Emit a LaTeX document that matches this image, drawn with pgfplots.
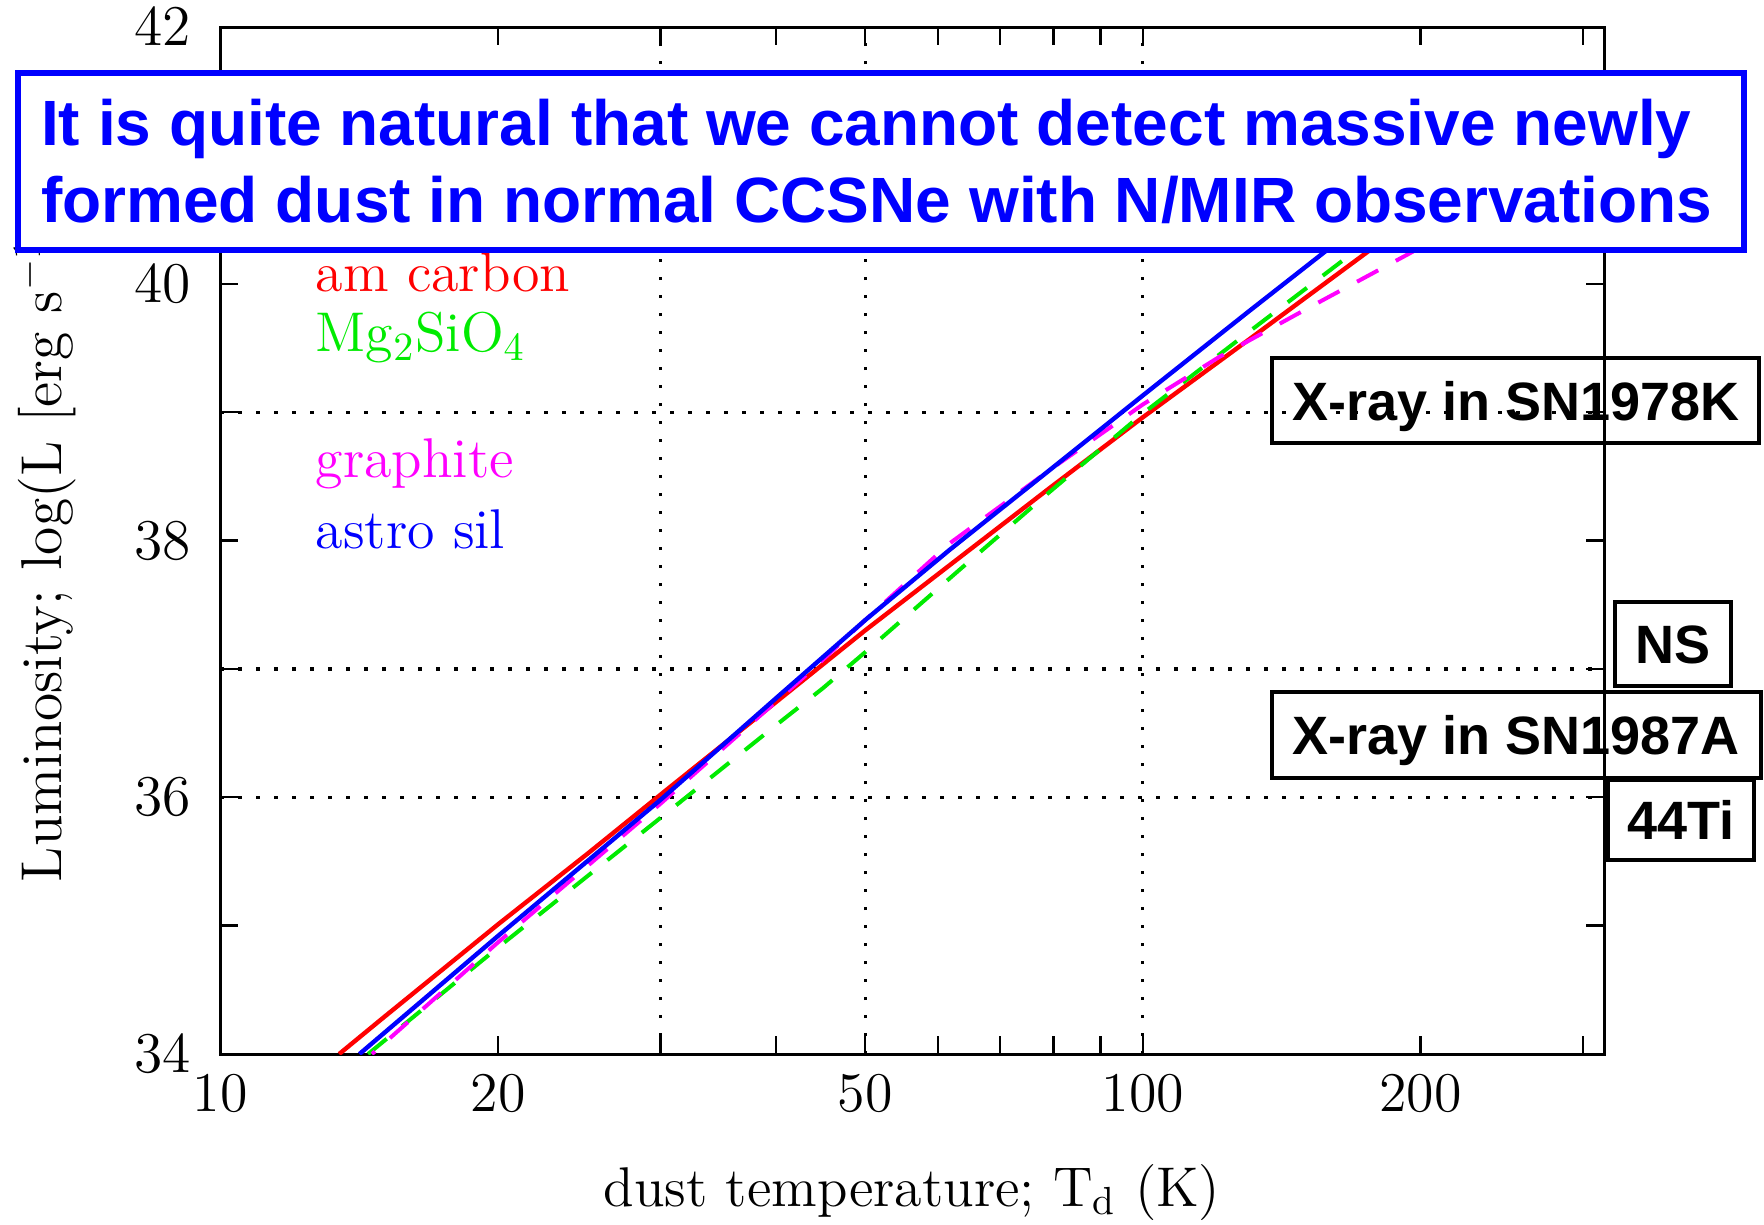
\documentclass[border=0pt]{standalone}
\usepackage{fontspec}
\usepackage{pgfplots}
\pgfplotsset{compat=1.18}
\newfontfamily\arial{Liberation Sans}
\newcommand\gfont[1]{\fontsize{#1pt}{#1pt}\selectfont\addfontfeatures{LetterSpace=6}}
\definecolor{pgreen}{RGB}{0,235,0}
\definecolor{pmag}{RGB}{255,0,255}
\begin{document}
\begin{tikzpicture}[x=1pt,y=1pt]
\begin{axis}[
  at={(55.1pt,42.5pt)}, anchor=south west,
  scale only axis, width=345.9pt, height=256.75pt,
  xmode=log, xmin=10, xmax=316.23, ymin=34, ymax=42,
  xtick={10,20,50,100,200}, xticklabels={10,20,50,100,200},
  minor xtick={30,40,60,70,80,90,300},
  ytick={34,36,38,40,42}, minor ytick={35,37,39,41},
  tick align=inside,
  major tick length=4.5pt, minor tick length=4.5pt,
  tick style={black, line width=0.6pt},
  axis line style={black, line width=0.75pt},
  tick label style={font=\fontsize{14pt}{14pt}\selectfont},
  xticklabel style={yshift=-1.5pt},
  yticklabel style={xshift=-3.8pt},
  extra x ticks={30,50,100}, extra x tick labels={},
  extra y ticks={36,37,39}, extra y tick labels={},
  extra tick style={grid=major},
  major grid style={black, line width=0.8pt, dash pattern=on 0.8pt off 3.7pt},
]
\addplot[red, line width=1.1pt] coordinates {
(13.45,34.00) (15,34.28) (20,35.01) (25,35.56) (30,36.02) (40,36.74) (50,37.30)
(61.8,37.81) (79.3,38.41) (100,38.96) (130,39.56) (178.4,40.29) (230,40.87)};
\addplot[pgreen, line width=1pt, dash pattern=on 6pt off 5pt] coordinates {
(14.46,34.00) (20,34.83) (30,35.84) (40,36.56) (45,36.85) (50,37.13)
(63,37.76) (79.3,38.38) (100,38.99) (130,39.62) (171,40.27) (215,40.8)};
\addplot[pmag, line width=1pt, dash pattern=on 6pt off 5pt, dash phase=5pt] coordinates {
(14.6,34.00) (20,34.87) (30,35.95) (43.9,37.00) (50,37.38) (61.8,37.98)
(79.3,38.55) (100,39.06) (121,39.43) (151,39.81) (195,40.24) (240,40.6)};
\addplot[blue, line width=1.1pt] coordinates {
(14.15,34.00) (20,34.92) (30,35.98) (40,36.77) (50,37.38) (61.8,37.93)
(79.3,38.55) (100,39.13) (130,39.78) (159.5,40.28) (200,40.83)};
\node[anchor=west, inner sep=0pt, text=red, font={\gfont{14}}] at (axis cs:12.66,40.09) {am carbon};
\node[anchor=west, inner sep=0pt, text=pgreen, font={\gfont{14}}] at (axis cs:12.66,39.58) {Mg$_2$SiO$_4$};
\node[anchor=west, inner sep=0pt, text=pmag, font={\gfont{14}}] at (axis cs:12.66,38.6) {graphite};
\node[anchor=west, inner sep=0pt, text=blue, font={\gfont{14}}] at (axis cs:12.66,38.09) {astro sil};
\end{axis}
\node[rotate=90, anchor=west, inner sep=0pt, font={\gfont{14.4}}] at (11.25,85.25) {Luminosity; log(L [erg s$^{-1}$])};
\node[anchor=base, font={\gfont{14}}] at (228,4.5) {dust temperature; T$_{\mathrm{d}}$ (K)};
% blue message box
\draw[blue, line width=1.3pt, fill=white] (4.5,243.5) rectangle (436,287.75);
\node[anchor=base west, inner sep=0pt, text=blue, font={\arial\bfseries\fontsize{16pt}{16pt}\selectfont}] at (10.1,269.5) {It is quite natural that we cannot detect massive newly};
\node[anchor=base west, inner sep=0pt, text=blue, font={\arial\bfseries\fontsize{16pt}{16pt}\selectfont}] at (10.1,250.5) {formed dust in normal CCSNe with N/MIR observations};
% right-hand boxes
\draw[black, line width=1.1pt] (318,195.25) rectangle (439.75,216.5);
\node[anchor=base, inner sep=0pt, font={\arial\bfseries\fontsize{13.5pt}{13.5pt}\selectfont}] at (378.9,201.0) {X-ray in SN1978K};
\draw[black, line width=1.1pt] (403.75,134.5) rectangle (432.75,155.5);
\node[anchor=base, inner sep=0pt, font={\arial\bfseries\fontsize{13.5pt}{13.5pt}\selectfont}] at (418.25,140.15) {NS};
\draw[black, line width=1.1pt] (318,111.5) rectangle (440.25,133);
\node[anchor=base, inner sep=0pt, font={\arial\bfseries\fontsize{13.5pt}{13.5pt}\selectfont}] at (379.1,117.4) {X-ray in SN1987A};
\draw[black, line width=1.1pt] (402,91) rectangle (438.5,111);
\node[anchor=base, inner sep=0pt, font={\arial\bfseries\fontsize{13.5pt}{13.5pt}\selectfont}] at (420.25,96.15) {44Ti};
\pgfresetboundingbox
\useasboundingbox (0,0) rectangle (441,306);
\end{tikzpicture}
\end{document}
